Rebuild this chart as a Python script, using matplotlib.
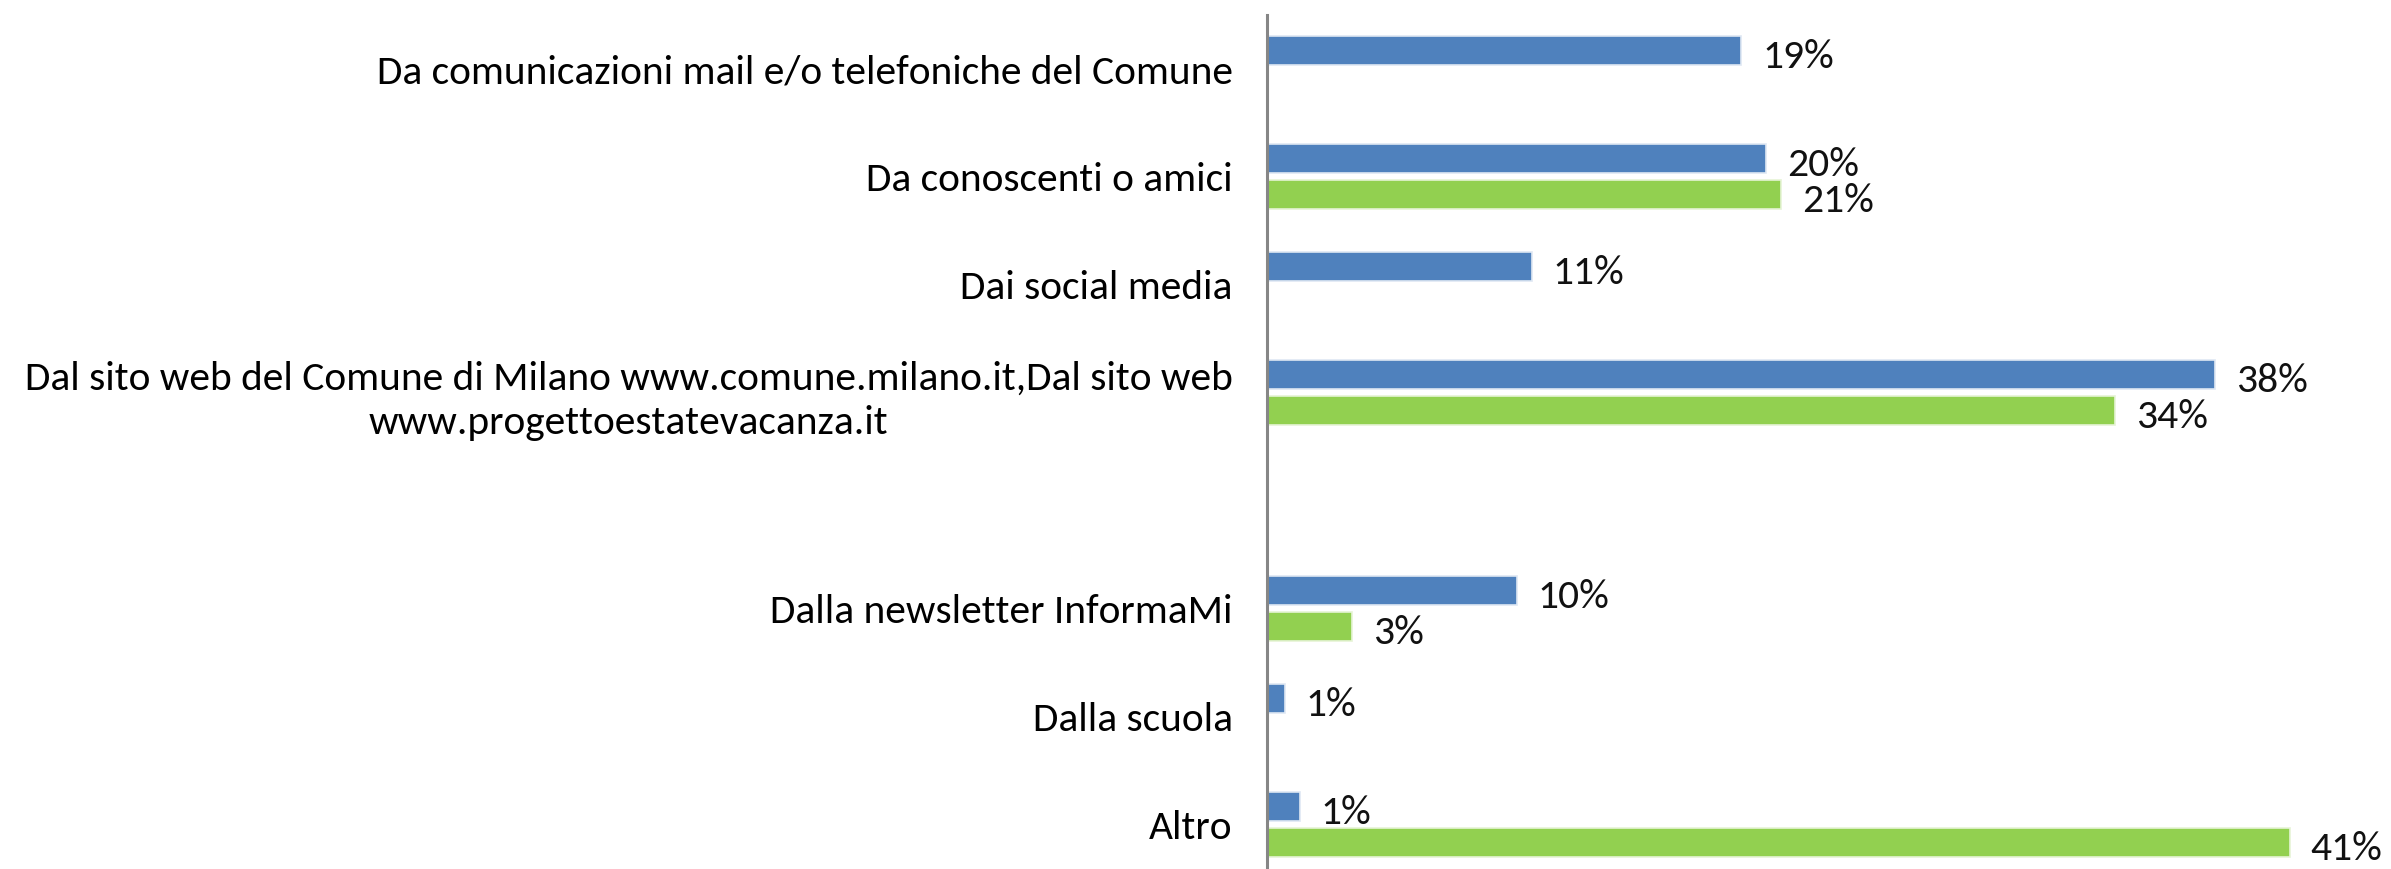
import numpy as np
import matplotlib
matplotlib.use("Agg")
import matplotlib.pyplot as plt

# categories top to bottom; the empty one is a blank slot in the original chart
categories = [
    "Da comunicazioni mail e/o telefoniche del Comune",
    "Da conoscenti o amici",
    "Dai social media",
    "Dal sito web del Comune di Milano www.comune.milano.it,Dal sito web\nwww.progettoestatevacanza.it",
    "",
    "Dalla newsletter InformaMi",
    "Dalla scuola",
    "Altro",
]
blue_values = [19.0, 20.0, 10.6, 38.0, None, 10.0, 0.7, 1.3]
green_values = [None, 20.6, None, 34.0, None, 3.4, None, 41.0]

BLUE = "#4F81BD"
GREEN = "#92D050"

plt.rcParams["font.family"] = ["Carlito", "Lato", "DejaVu Sans"]

fig = plt.figure(figsize=(23.91, 8.69), dpi=100)
ax = fig.add_axes([0.530, 0.0, 0.470, 0.983])

y = np.arange(len(categories))
bar_h = 0.27
off = 0.1675

for i, v in enumerate(blue_values):
    if v is None:
        continue
    ax.barh(y[i] - off, v, height=bar_h, color=BLUE, edgecolor="#dfe8f3", linewidth=1.2)
    ax.text(v + 0.85, y[i] - off + 0.06, f"{v:.0f}%", va="center", ha="left",
            fontsize=30, color="#111111")

for i, v in enumerate(green_values):
    if v is None:
        continue
    ax.barh(y[i] + off, v, height=bar_h, color=GREEN, edgecolor="#e6f3d6", linewidth=1.2)
    ax.text(v + 0.85, y[i] + off + 0.06, f"{v:.0f}%", va="center", ha="left",
            fontsize=30, color="#111111")

ax.set_xlim(0, 45.07)
ax.set_ylim(7.41, -0.5)
ax.set_yticks(y)
ax.set_yticklabels(categories, fontsize=29.8, multialignment="center", linespacing=1.3)
ax.tick_params(axis="y", length=0, pad=25)
ax.set_xticks([])

for side in ["top", "right", "bottom"]:
    ax.spines[side].set_visible(False)
ax.spines["left"].set_color("#868686")
ax.spines["left"].set_linewidth(2.2)

fig.savefig("out.png", dpi=100, facecolor="white")
